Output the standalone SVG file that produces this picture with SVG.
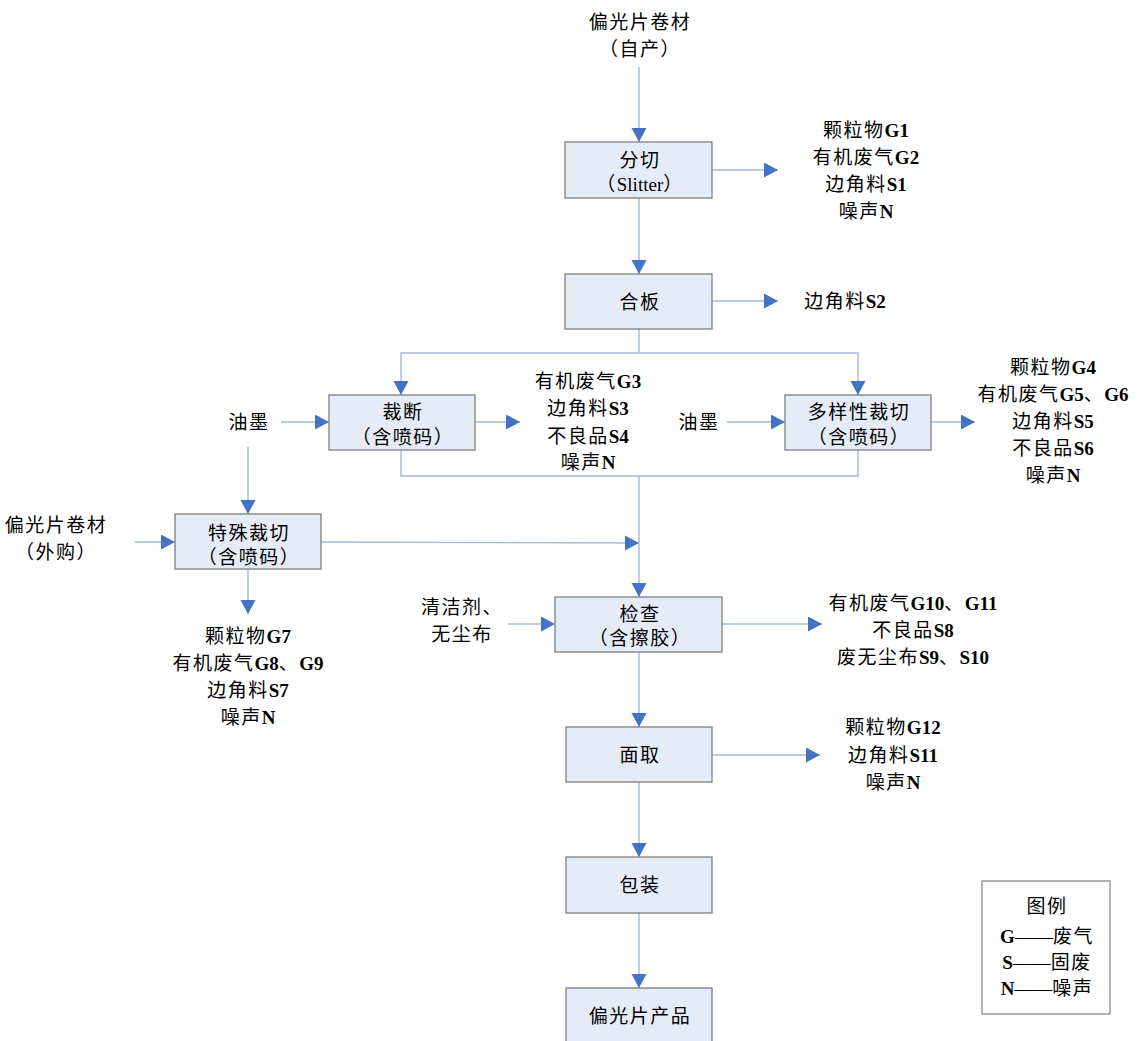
<svg xmlns="http://www.w3.org/2000/svg" width="1147" height="1041" viewBox="0 0 1147 1041">
<defs>
<marker id="ah" markerUnits="userSpaceOnUse" markerWidth="16" markerHeight="16" refX="14" refY="7.5" orient="auto">
<path d="M0,0 L14,7.5 L0,15 Z" fill="#4472c4"/>
</marker>
<style>
.box{fill:#e6ecf7;stroke:#7f7f7f;stroke-width:1.3}
.c{fill:none;stroke:#a3b7de;stroke-width:1.4}
.a{marker-end:url(#ah)}
text{font-family:"Liberation Serif","Noto Sans CJK SC",serif;font-size:19px;fill:#000;text-anchor:middle;letter-spacing:1.5px}
.b{font-weight:bold;letter-spacing:0}
.lt{letter-spacing:0}
.lg{fill:#fff;stroke:#7f7f7f;stroke-width:1.2}
</style>
</defs>
<rect width="1147" height="1041" fill="#fff"/>

<g id="connectors">
<line class="c a" x1="639" y1="67" x2="639" y2="142"/>
<line class="c a" x1="712" y1="170" x2="778" y2="170"/>
<line class="c a" x1="639" y1="198" x2="639" y2="274"/>
<line class="c a" x1="712" y1="301" x2="778" y2="301"/>
<polyline class="c" points="639,329 639,353"/>
<polyline class="c a" points="639,353 401,353 401,395"/>
<polyline class="c a" points="639,353 858,353 858,395"/>
<line class="c a" x1="281" y1="422" x2="329" y2="422"/>
<line class="c a" x1="475" y1="422" x2="520" y2="422"/>
<line class="c a" x1="727" y1="422" x2="785" y2="422"/>
<line class="c a" x1="931" y1="422" x2="975" y2="422"/>
<polyline class="c" points="401,450 401,476 858,476 858,450"/>
<line class="c a" x1="639" y1="476" x2="639" y2="597"/>
<line class="c a" x1="248" y1="447" x2="248" y2="514"/>
<line class="c a" x1="135" y1="542" x2="175" y2="542"/>
<line class="c a" x1="321" y1="542" x2="639" y2="543"/>
<line class="c a" x1="248" y1="569" x2="248" y2="614"/>
<line class="c a" x1="508" y1="624" x2="555" y2="624"/>
<line class="c a" x1="722" y1="624" x2="822" y2="624"/>
<line class="c a" x1="639" y1="652" x2="639" y2="727"/>
<line class="c a" x1="712" y1="755" x2="820" y2="755"/>
<line class="c a" x1="639" y1="782" x2="639" y2="857"/>
<line class="c a" x1="639" y1="913" x2="639" y2="988"/>
</g>

<g id="src-top">
<text x="640" y="29">偏光片卷材</text>
<text x="640" y="56">（自产）</text>
</g>

<g id="n-fenqie">
<rect class="box" x="565" y="142" width="147" height="56"/>
<text x="640" y="167">分切</text>
<text x="640" y="191">（<tspan class="lt">Slitter</tspan>）</text>
</g>
<g id="o-fenqie">
<text x="866" y="137">颗粒物<tspan class="b">G1</tspan></text>
<text x="866" y="164">有机废气<tspan class="b">G2</tspan></text>
<text x="866" y="191">边角料<tspan class="b">S1</tspan></text>
<text x="866" y="218">噪声<tspan class="b">N</tspan></text>
</g>

<g id="n-heban">
<rect class="box" x="565" y="274" width="147" height="55"/>
<text x="640" y="309">合板</text>
</g>
<g id="o-heban">
<text x="845" y="308">边角料<tspan class="b">S2</tspan></text>
</g>

<g id="n-caiduan">
<rect class="box" x="329" y="395" width="146" height="55"/>
<text x="403" y="419">裁断</text>
<text x="403" y="444">（含喷码）</text>
</g>
<g id="i-caiduan"><text x="249" y="429">油墨</text></g>
<g id="o-caiduan">
<text x="588" y="388">有机废气<tspan class="b">G3</tspan></text>
<text x="588" y="415">边角料<tspan class="b">S3</tspan></text>
<text x="588" y="443">不良品<tspan class="b">S4</tspan></text>
<text x="588" y="469">噪声<tspan class="b">N</tspan></text>
</g>

<g id="n-duoyang">
<rect class="box" x="785" y="395" width="146" height="55"/>
<text x="859" y="419">多样性裁切</text>
<text x="859" y="444">（含喷码）</text>
</g>
<g id="i-duoyang"><text x="699" y="429">油墨</text></g>
<g id="o-duoyang">
<text x="1053" y="374">颗粒物<tspan class="b">G4</tspan></text>
<text x="1053" y="401">有机废气<tspan class="b">G5</tspan>、<tspan class="b">G6</tspan></text>
<text x="1053" y="428">边角料<tspan class="b">S5</tspan></text>
<text x="1053" y="455">不良品<tspan class="b">S6</tspan></text>
<text x="1053" y="482">噪声<tspan class="b">N</tspan></text>
</g>

<g id="n-teshu">
<rect class="box" x="175" y="514" width="146" height="55"/>
<text x="249" y="540">特殊裁切</text>
<text x="249" y="564">（含喷码）</text>
</g>
<g id="i-teshu">
<text x="56" y="532">偏光片卷材</text>
<text x="56" y="559">（外购）</text>
</g>
<g id="o-teshu">
<text x="248" y="643">颗粒物<tspan class="b">G7</tspan></text>
<text x="248" y="670">有机废气<tspan class="b">G8</tspan>、<tspan class="b">G9</tspan></text>
<text x="248" y="697">边角料<tspan class="b">S7</tspan></text>
<text x="248" y="724">噪声<tspan class="b">N</tspan></text>
</g>

<g id="n-jiancha">
<rect class="box" x="555" y="597" width="167" height="55"/>
<text x="640" y="621">检查</text>
<text x="640" y="645">（含擦胶）</text>
</g>
<g id="i-jiancha">
<text x="462" y="614">清洁剂、</text>
<text x="462" y="641">无尘布</text>
</g>
<g id="o-jiancha">
<text x="913" y="610">有机废气<tspan class="b">G10</tspan>、<tspan class="b">G11</tspan></text>
<text x="913" y="637">不良品<tspan class="b">S8</tspan></text>
<text x="913" y="664">废无尘布<tspan class="b">S9</tspan>、<tspan class="b">S10</tspan></text>
</g>

<g id="n-mianqu">
<rect class="box" x="566" y="727" width="146" height="55"/>
<text x="640" y="762">面取</text>
</g>
<g id="o-mianqu">
<text x="893" y="734">颗粒物<tspan class="b">G12</tspan></text>
<text x="893" y="762">边角料<tspan class="b">S11</tspan></text>
<text x="893" y="789">噪声<tspan class="b">N</tspan></text>
</g>

<g id="n-baozhuang">
<rect class="box" x="566" y="857" width="146" height="56"/>
<text x="640" y="892">包装</text>
</g>

<g id="n-chanpin">
<rect class="box" x="566" y="988" width="146" height="60"/>
<text x="640" y="1023">偏光片产品</text>
</g>

<g id="legend">
<rect class="lg" x="982" y="881" width="128" height="133"/>
<text x="1047" y="913">图例</text>
<text x="1047" y="943"><tspan class="b">G</tspan><tspan class="lt">——</tspan>废气</text>
<text x="1047" y="969"><tspan class="b">S</tspan><tspan class="lt">——</tspan>固废</text>
<text x="1047" y="995"><tspan class="b">N</tspan><tspan class="lt">——</tspan>噪声</text>
</g>
</svg>
